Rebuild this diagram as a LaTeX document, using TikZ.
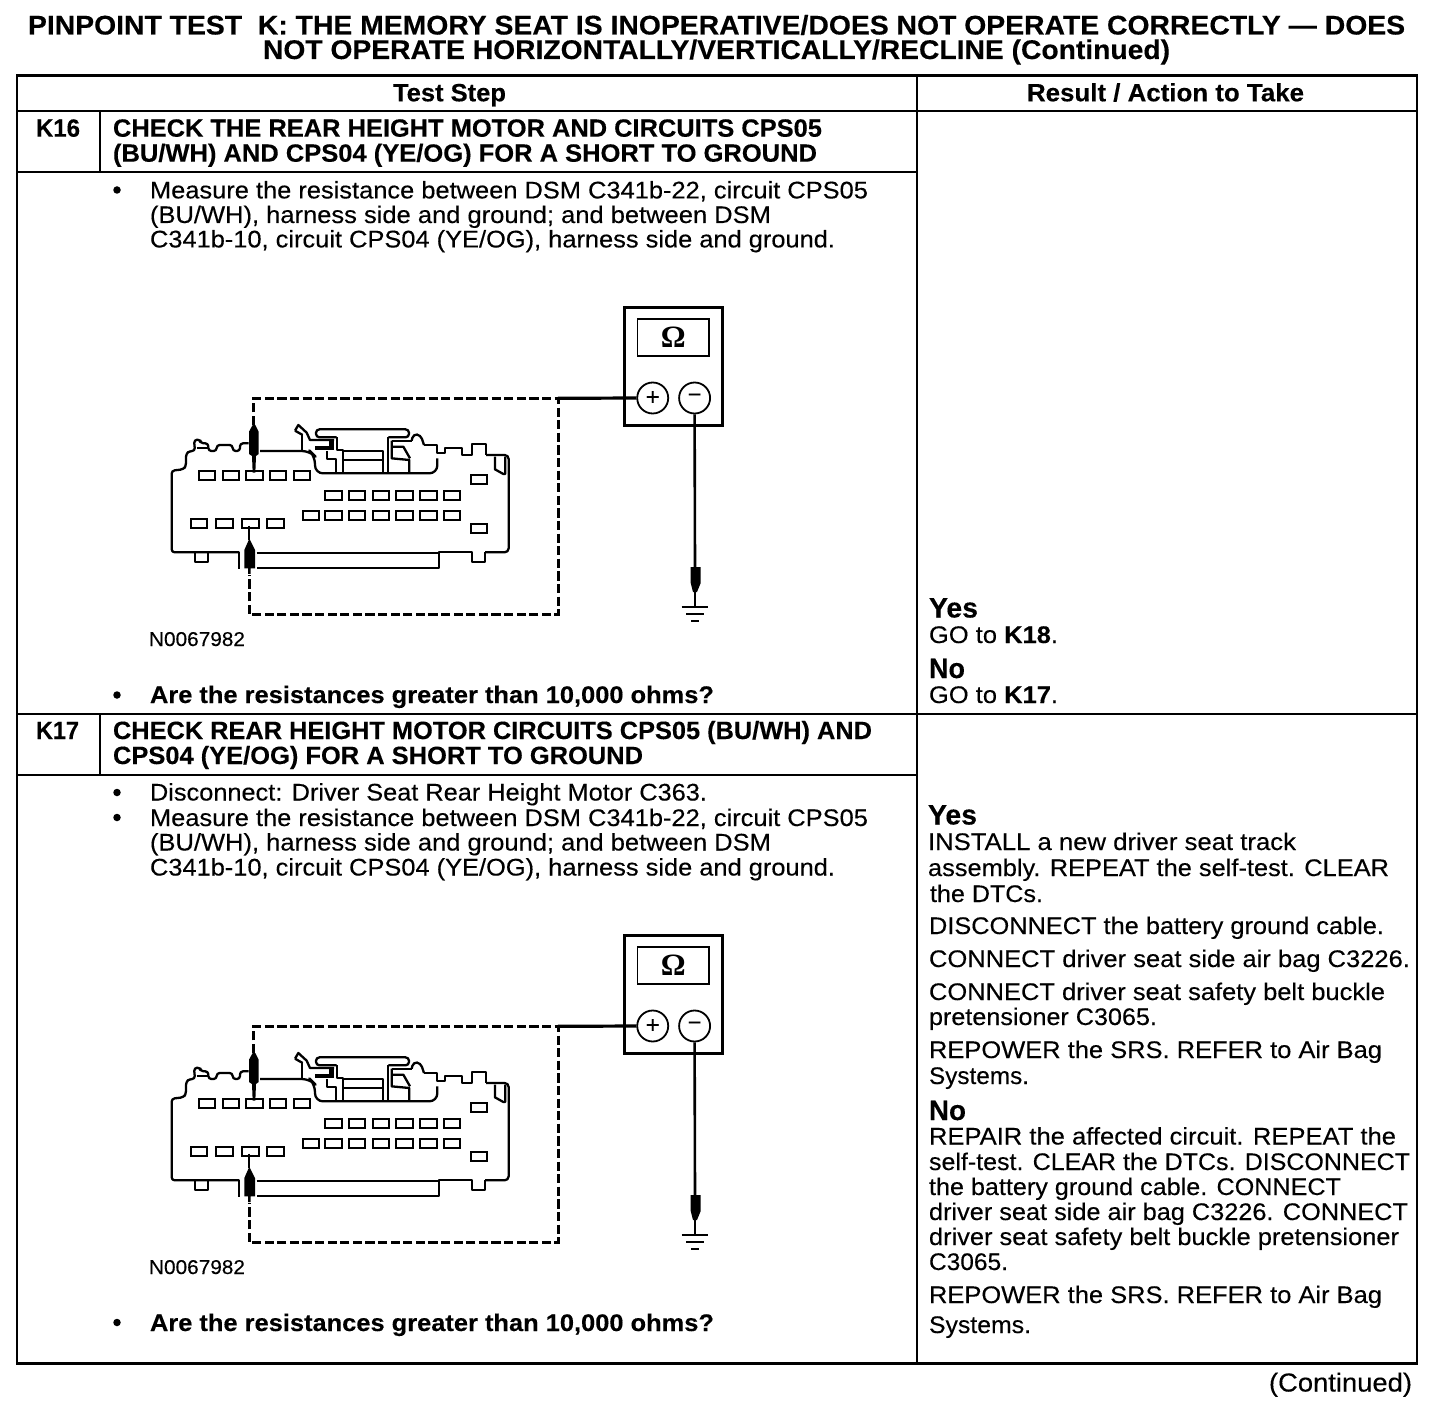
\documentclass[tikz,border=0pt]{standalone}
\usepackage{graphicx}
\usepackage{fontspec}
\setmainfont{Liberation Sans}[FakeBold=0.25]
\newfontfamily\omegafont{Liberation Serif}
\tikzset{
  grid line/.style={line width=2pt,draw=black},
  heavy line/.style={line width=2.8pt,draw=black},
  wire/.style={line width=3pt,draw=black,dash pattern=on 9.2pt off 3.4pt},
  solid wire/.style={line width=3.2pt,draw=black},
  body line/.style={line width=2.3pt,draw=black,line join=round},
  pin/.style={line width=2pt,draw=black,fill=white},
  terminal/.style={circle,draw=black,line width=1.8pt,minimum size=31pt,inner sep=0pt,font=\fontsize{24}{24}\selectfont},
  text line/.style={inner sep=0pt,outer sep=0pt,anchor=base west},
  bullet dot/.style={circle,fill=black,inner sep=0pt,minimum size=7.5pt}
}
% name, x-left, x-right, baseline, size, text
\newcommand{\txtline}[6]{\node[text line] (#1) at (#2,#4) {\resizebox{\dimexpr #3pt-#2pt\relax}{\height}{\fontsize{#5}{#5}\selectfont #6}};}
\newcommand{\conn}[2]{%
\begin{scope}[shift={(150,#2)},x=0.33333pt,y=-0.33333pt]
  \draw[body line,rounded corners=3pt] (268,517) -- (65,517) -- (65,272) -- (100,268) -- (108,258) -- (108,222) -- (118,213) -- (135,213) -- (132,180) -- (150,178) -- (152,190) -- (175,190) -- (175,213) -- (200,213) -- (200,195) -- (248,195) -- (248,213) -- (270,213) -- (270,190) -- (296,190);
  \draw[body line] (140,205) -- (175,205);
  \draw[body line] (135,517) -- (135,545) -- (175,545) -- (175,517);
  \draw[body line] (268,517) -- (268,567);
  \draw[body line,rounded corners=8pt] (330,213) -- (480,213) -- (495,228) -- (495,280) -- (862,280) -- (862,235);
  \draw[body line] (455,162) -- (455,213);
  \draw[body line] (435,152) -- (445,135) -- (470,158) -- (480,180) -- (552,180);
  \draw[body line] (435,152) -- (458,165);
  \draw[body line,rounded corners=3.5pt] (560,172) -- (498,172) -- (498,148) -- (777,148) -- (777,172) -- (715,172);
  \draw[body line] (715,172) -- (715,280);
  \draw[body line] (560,172) -- (560,210) -- (580,210) -- (580,280);
  \draw[line width=4.5pt] (495,204) -- (545,204) -- (545,180);
  \draw[body line] (530,213) -- (530,238) -- (558,238) -- (558,280);
  \draw[body line] (580,212) -- (700,212) -- (700,280);
  \draw[body line] (580,240) -- (700,240);
  \draw[body line] (725,182) -- (725,235) -- (778,240) -- (778,280);
  \draw[body line] (725,200) -- (760,200) -- (780,235);
  \draw[body line] (725,182) -- (785,182);
  \draw[body line,rounded corners=4pt] (785,182) -- (790,162) -- (812,165) -- (822,195);
  \draw[body line] (822,195) -- (860,195) -- (860,220) -- (885,220) -- (885,205) -- (935,205) -- (935,225) -- (965,225) -- (965,192) -- (1008,192) -- (1008,225);
  \draw[body line,rounded corners=4pt] (1008,225) -- (1076,225) -- (1076,517) -- (1005,517);
  \draw[body line] (1005,517) -- (1005,545) -- (965,545) -- (965,517) -- (868,517) -- (868,565) -- (322,565);
  \draw[body line] (320,519) -- (868,519);
  \draw[body line] (1035,230) -- (1035,268) -- (1060,282) -- (1066,282) -- (1066,230);
  \foreach \xa/\xb in {146/194,218/266,288/338,360/408,432/480} \draw[pin] (\xa,272) rectangle (\xb,300);
  \foreach \xa/\xb in {525/575,596/644,668/716,738/788,810/860,882/930} {\draw[pin] (\xa,333) rectangle (\xb,360); \draw[pin] (\xa,392) rectangle (\xb,420);}
  \draw[pin] (460,392) rectangle (508,420);
  \foreach \xa/\xb in {122/170,198/248,276/326,350/402} \draw[pin] (\xa,416) rectangle (\xb,444);
  \draw[pin] (962,284) rectangle (1012,312);
  \draw[pin] (962,432) rectangle (1012,460);
  % test probes
  \fill (308,135) -- (316,135) -- (326,155) -- (326,222) -- (318,228) -- (316,278) -- (308,278) -- (306,228) -- (297,222) -- (297,155) -- cycle;
  \draw[line width=2pt] (298,437) -- (298,480);
  \fill (298,476) -- (315,510) -- (315,565) -- (302,565) -- (302,582) -- (294,582) -- (294,565) -- (283,565) -- (283,510) -- cycle;
  % dashed lead
  \coordinate (#1wa) at (311,135);
  \coordinate (#1wb) at (311,55);
  \coordinate (#1wc) at (1224,55);
  \coordinate (#1wd) at (1224,704);
  \coordinate (#1we) at (298,704);
  \coordinate (#1wf) at (298,584);
  \draw[wire] (#1wa) -- (#1wb) -- (#1wc) -- (#1wd) -- (#1we) -- (#1wf);
\end{scope}
\begin{scope}[shift={(0,#2-380)}]
  \node[draw=black,line width=3.2pt,minimum width=98pt,minimum height=118pt,inner sep=0pt] (#1meter) at (673.5,366.5) {};
  \node[draw=black,line width=1.8pt,minimum width=71.5pt,minimum height=37pt,inner sep=0pt,font=\omegafont\fontsize{31}{31}\selectfont\bfseries] (#1disp) at (673.2,337.5) {\raisebox{-2pt}{Ω}};
  \node[terminal] (#1plus) at (652.7,398) {+};
  \node[terminal] (#1minus) at (694.6,398) {\raisebox{-0.16em}{−}};
  \coordinate (#1gtop) at (695,567);
  \draw[solid wire] (#1wc) -- (#1plus.west);
  \draw[line width=2.6pt] (#1minus.south) -- (#1gtop);
  \fill (690.7,567) -- (700.7,567) -- (700.7,583) -- (697,592) -- (693,592) -- (690.7,583) -- cycle;
  \coordinate (#1gnd) at (695,607);
  \draw[line width=2pt] (#1gtop) -- (#1gnd);
  \draw[line width=2.2pt] (681.7,607) -- (708,607);
  \draw[line width=2.4pt] (686,614) -- (704,614);
  \draw[line width=2.8pt] (691,621) -- (699,621);
\end{scope}}
\begin{document}
\begin{tikzpicture}[x=1pt,y=-1pt]
\useasboundingbox (0,0) rectangle (1456,1404);
\fill[white] (0,0) rectangle (1456,1404);
% title
\txtline{t1}{28}{1405}{34.5}{27}{\bfseries PINPOINT TEST\ \ K: THE MEMORY SEAT IS INOPERATIVE/DOES NOT OPERATE CORRECTLY — DOES}
\txtline{t2}{263}{1170}{59}{27}{\bfseries NOT OPERATE HORIZONTALLY/VERTICALLY/RECLINE (Continued)}
% table
\coordinate (tl) at (17,75.5);
\coordinate (br) at (1417,1363.5);
\draw[heavy line] (tl) rectangle (br);
\draw[grid line] (917,75.5) -- (917,1363.5);
\draw[heavy line] (17,111) -- (1417,111);
\draw[grid line] (100,111) -- (100,172);
\draw[grid line] (17,172) -- (917,172);
\draw[grid line] (17,714) -- (1417,714);
\draw[grid line] (100,714) -- (100,775);
\draw[heavy line] (17,775) -- (917,775);
% header
\txtline{h1}{393}{506}{101.3}{25}{\bfseries Test Step}
\txtline{h2}{1027}{1304}{101.3}{25}{\bfseries Result / Action to Take}
% K16
\txtline{k16}{36}{80}{136.7}{25}{\bfseries K16}
\txtline{k16a}{113}{822}{136.7}{25}{\bfseries CHECK THE REAR HEIGHT MOTOR AND CIRCUITS CPS05}
\txtline{k16b}{113}{817}{161.7}{25}{\bfseries (BU/WH) AND CPS04 (YE/OG) FOR A SHORT TO GROUND}
\node[bullet dot] (b1) at (117,190) {};
\txtline{m1}{150}{868}{198.4}{24}{Measure the resistance between DSM C341b-22, circuit CPS05}
\txtline{m2}{150}{771}{223}{24}{(BU/WH), harness side and ground; and between DSM}
\txtline{m3}{150}{835}{247.4}{24}{C341b-10, circuit CPS04 (YE/OG), harness side and ground.}
\txtline{n1}{149}{245}{646}{20}{N0067982}
\node[bullet dot] (b2) at (117,695) {};
\txtline{q1}{150}{714}{703}{24}{\bfseries Are the resistances greater than 10,000 ohms?}
\txtline{y1}{929}{978}{617.5}{28}{\bfseries Yes}
\txtline{g1}{929}{1058}{643}{24}{GO to \textbf{K18}.}
\txtline{no1}{929}{965}{678}{28}{\bfseries No}
\txtline{g2}{929}{1058}{703}{24}{GO to \textbf{K17}.}
% K17
\txtline{k17}{36}{79}{739}{25}{\bfseries K17}
\txtline{k17a}{113}{872}{739}{25}{\bfseries CHECK REAR HEIGHT MOTOR CIRCUITS CPS05 (BU/WH) AND}
\txtline{k17b}{113}{643}{764}{25}{\bfseries CPS04 (YE/OG) FOR A SHORT TO GROUND}
\node[bullet dot] (b3) at (117,792.5) {};
\txtline{d1}{150}{707}{800.5}{24}{Disconnect: Driver Seat Rear Height Motor C363.}
\node[bullet dot] (b4) at (117,817.5) {};
\txtline{d2}{150}{868}{826}{24}{Measure the resistance between DSM C341b-22, circuit CPS05}
\txtline{d3}{150}{771}{850.5}{24}{(BU/WH), harness side and ground; and between DSM}
\txtline{d4}{150}{835}{875.5}{24}{C341b-10, circuit CPS04 (YE/OG), harness side and ground.}
\txtline{n2}{149}{245}{1274}{20}{N0067982}
\node[bullet dot] (b5) at (117,1322.5) {};
\txtline{q2}{150}{714}{1331}{24}{\bfseries Are the resistances greater than 10,000 ohms?}
\txtline{y2}{928}{977}{824.5}{28}{\bfseries Yes}
\txtline{r1}{928}{1296}{850}{24}{INSTALL a new driver seat track}
\txtline{r2}{928}{1389}{876}{24}{assembly. REPEAT the self-test. CLEAR}
\txtline{r3}{930}{1043}{902}{24}{the DTCs.}
\txtline{r4}{929}{1384}{934}{24}{DISCONNECT the battery ground cable.}
\txtline{r5}{929}{1410}{967}{24}{CONNECT driver seat side air bag C3226.}
\txtline{r6}{929}{1385}{1000}{24}{CONNECT driver seat safety belt buckle}
\txtline{r7}{929}{1157}{1025}{24}{pretensioner C3065.}
\txtline{r8}{929}{1382}{1058}{24}{REPOWER the SRS. REFER to Air Bag}
\txtline{r9}{929}{1029}{1084}{24}{Systems.}
\txtline{no2}{929}{966}{1120}{28}{\bfseries No}
\txtline{s1}{929}{1396}{1144.5}{24}{REPAIR the affected circuit. REPEAT the}
\txtline{s2}{929}{1410}{1170}{24}{self-test. CLEAR the DTCs. DISCONNECT}
\txtline{s3}{929}{1341}{1195}{24}{the battery ground cable. CONNECT}
\txtline{s4}{929}{1408}{1220}{24}{driver seat side air bag C3226. CONNECT}
\txtline{s5}{929}{1399}{1245}{24}{driver seat safety belt buckle pretensioner}
\txtline{s6}{929}{1008}{1270}{24}{C3065.}
\txtline{s7}{929}{1382}{1303}{24}{REPOWER the SRS. REFER to Air Bag}
\txtline{s8}{929}{1031}{1333}{24}{Systems.}
\txtline{cont}{1269}{1412}{1391.5}{26}{(Continued)}
% figures
\conn{a}{380}
\conn{b}{1008}
\end{tikzpicture}
\end{document}
